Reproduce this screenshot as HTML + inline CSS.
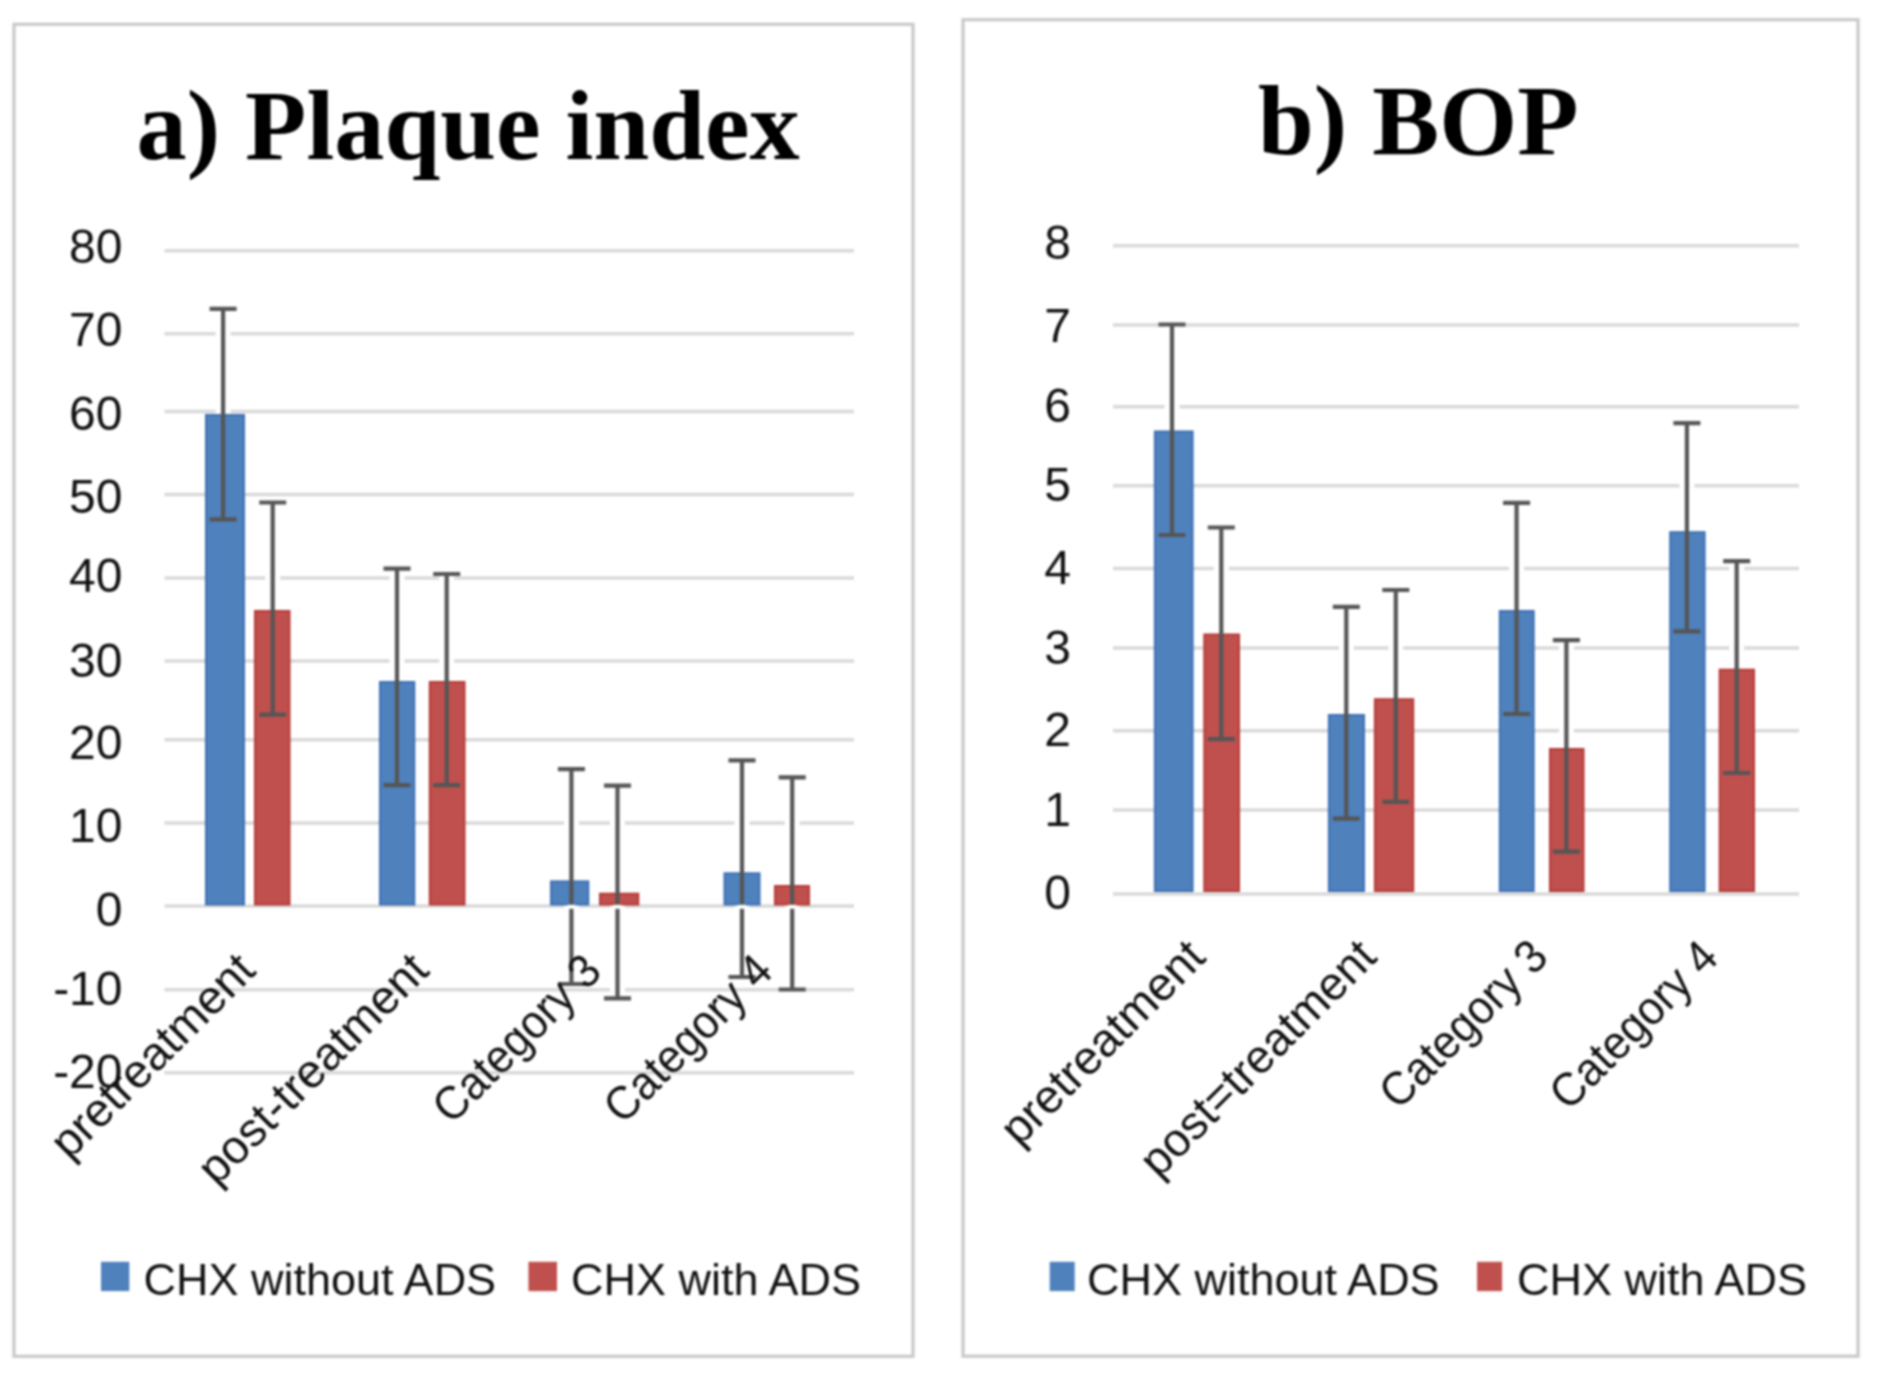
<!DOCTYPE html>
<html><head><meta charset="utf-8"><style>
html,body{margin:0;padding:0;background:#fff;width:1890px;height:1388px;overflow:hidden}
svg{display:block}
#w{filter:blur(1px)}
</style></head><body><div id="w">
<svg width="1890" height="1388" viewBox="0 0 1890 1388">
<rect width="1890" height="1388" fill="#fff"/>
<rect x="14" y="24.3" width="899" height="1332" fill="none" stroke="#c9c9c9" stroke-width="3.2"/>
<rect x="963" y="19.7" width="895" height="1336.5" fill="none" stroke="#c9c9c9" stroke-width="3.2"/>
<text x="136.5" y="158.5" font-family='"Liberation Serif", serif' font-weight="bold" font-size="100.3" fill="#000">a) Plaque index</text>
<text x="1258" y="153.5" font-family='"Liberation Serif", serif' font-weight="bold" font-size="100.3" fill="#000">b) BOP</text>
<line x1="164.5" x2="854" y1="250.8" y2="250.8" stroke="#d9d9d9" stroke-width="3.5"/>
<text x="122.5" y="263.2" text-anchor="end" font-family='"Liberation Sans", sans-serif' font-size="48" fill="#111111">80</text>
<line x1="164.5" x2="854" y1="333.8" y2="333.8" stroke="#d9d9d9" stroke-width="3.5"/>
<text x="122.5" y="346.29999999999995" text-anchor="end" font-family='"Liberation Sans", sans-serif' font-size="48" fill="#111111">70</text>
<line x1="164.5" x2="854" y1="411.6" y2="411.6" stroke="#d9d9d9" stroke-width="3.5"/>
<text x="122.5" y="429.9" text-anchor="end" font-family='"Liberation Sans", sans-serif' font-size="48" fill="#111111">60</text>
<line x1="164.5" x2="854" y1="494.6" y2="494.6" stroke="#d9d9d9" stroke-width="3.5"/>
<text x="122.5" y="513.2" text-anchor="end" font-family='"Liberation Sans", sans-serif' font-size="48" fill="#111111">50</text>
<line x1="164.5" x2="854" y1="577.9" y2="577.9" stroke="#d9d9d9" stroke-width="3.5"/>
<text x="122.5" y="591.9" text-anchor="end" font-family='"Liberation Sans", sans-serif' font-size="48" fill="#111111">40</text>
<line x1="164.5" x2="854" y1="660.9" y2="660.9" stroke="#d9d9d9" stroke-width="3.5"/>
<text x="122.5" y="676.9" text-anchor="end" font-family='"Liberation Sans", sans-serif' font-size="48" fill="#111111">30</text>
<line x1="164.5" x2="854" y1="739.8" y2="739.8" stroke="#d9d9d9" stroke-width="3.5"/>
<text x="122.5" y="759.1999999999999" text-anchor="end" font-family='"Liberation Sans", sans-serif' font-size="48" fill="#111111">20</text>
<line x1="164.5" x2="854" y1="823.1" y2="823.1" stroke="#d9d9d9" stroke-width="3.5"/>
<text x="122.5" y="842.3" text-anchor="end" font-family='"Liberation Sans", sans-serif' font-size="48" fill="#111111">10</text>
<line x1="164.5" x2="854" y1="906.1" y2="906.1" stroke="#d9d9d9" stroke-width="3.5"/>
<text x="122.5" y="925.6" text-anchor="end" font-family='"Liberation Sans", sans-serif' font-size="48" fill="#111111">0</text>
<line x1="164.5" x2="854" y1="989.8" y2="989.8" stroke="#d9d9d9" stroke-width="3.5"/>
<text x="122.5" y="1004.6" text-anchor="end" font-family='"Liberation Sans", sans-serif' font-size="48" fill="#111111">-10</text>
<line x1="164.5" x2="854" y1="1072.8" y2="1072.8" stroke="#d9d9d9" stroke-width="3.5"/>
<text x="122.5" y="1087.9" text-anchor="end" font-family='"Liberation Sans", sans-serif' font-size="48" fill="#111111">-20</text>
<line x1="1113" x2="1799" y1="245.8" y2="245.8" stroke="#d9d9d9" stroke-width="3.5"/>
<text x="1071" y="258.5" text-anchor="end" font-family='"Liberation Sans", sans-serif' font-size="48" fill="#111111">8</text>
<line x1="1113" x2="1799" y1="325" y2="325" stroke="#d9d9d9" stroke-width="3.5"/>
<text x="1071" y="342.09999999999997" text-anchor="end" font-family='"Liberation Sans", sans-serif' font-size="48" fill="#111111">7</text>
<line x1="1113" x2="1799" y1="406.8" y2="406.8" stroke="#d9d9d9" stroke-width="3.5"/>
<text x="1071" y="422.4" text-anchor="end" font-family='"Liberation Sans", sans-serif' font-size="48" fill="#111111">6</text>
<line x1="1113" x2="1799" y1="485.8" y2="485.8" stroke="#d9d9d9" stroke-width="3.5"/>
<text x="1071" y="501.4" text-anchor="end" font-family='"Liberation Sans", sans-serif' font-size="48" fill="#111111">5</text>
<line x1="1113" x2="1799" y1="568.5" y2="568.5" stroke="#d9d9d9" stroke-width="3.5"/>
<text x="1071" y="583.9" text-anchor="end" font-family='"Liberation Sans", sans-serif' font-size="48" fill="#111111">4</text>
<line x1="1113" x2="1799" y1="648" y2="648" stroke="#d9d9d9" stroke-width="3.5"/>
<text x="1071" y="663.9" text-anchor="end" font-family='"Liberation Sans", sans-serif' font-size="48" fill="#111111">3</text>
<line x1="1113" x2="1799" y1="730.7" y2="730.7" stroke="#d9d9d9" stroke-width="3.5"/>
<text x="1071" y="746.4" text-anchor="end" font-family='"Liberation Sans", sans-serif' font-size="48" fill="#111111">2</text>
<line x1="1113" x2="1799" y1="810" y2="810" stroke="#d9d9d9" stroke-width="3.5"/>
<text x="1071" y="825.9" text-anchor="end" font-family='"Liberation Sans", sans-serif' font-size="48" fill="#111111">1</text>
<line x1="1113" x2="1799" y1="893.9" y2="893.9" stroke="#d9d9d9" stroke-width="3.5"/>
<text x="1071" y="909.4" text-anchor="end" font-family='"Liberation Sans", sans-serif' font-size="48" fill="#111111">0</text>
<path d="M223.1 308.8V519.3" stroke="#fff" stroke-width="15" fill="none"/>
<path d="M272.7 502.5V714.7" stroke="#fff" stroke-width="15" fill="none"/>
<path d="M397 568.6V785.2" stroke="#fff" stroke-width="15" fill="none"/>
<path d="M446.7 574V785.2" stroke="#fff" stroke-width="15" fill="none"/>
<path d="M571.4 769.2V984" stroke="#fff" stroke-width="15" fill="none"/>
<path d="M617.5 785.7V998.4" stroke="#fff" stroke-width="15" fill="none"/>
<path d="M742 760.4V977" stroke="#fff" stroke-width="15" fill="none"/>
<path d="M792.2 777.3V989.5" stroke="#fff" stroke-width="15" fill="none"/>
<path d="M1172 324.5V535" stroke="#fff" stroke-width="15" fill="none"/>
<path d="M1221.3 527.5V739.1" stroke="#fff" stroke-width="15" fill="none"/>
<path d="M1346.3 606.9V818.7" stroke="#fff" stroke-width="15" fill="none"/>
<path d="M1395.8 590V801.9" stroke="#fff" stroke-width="15" fill="none"/>
<path d="M1516.6 502.8V714" stroke="#fff" stroke-width="15" fill="none"/>
<path d="M1566.4 640.1V851.7" stroke="#fff" stroke-width="15" fill="none"/>
<path d="M1686.9 423.2V631.3" stroke="#fff" stroke-width="15" fill="none"/>
<path d="M1736.7 561.2V773" stroke="#fff" stroke-width="15" fill="none"/>
<rect x="206" y="415" width="38" height="489.5" fill="#4F81BD" stroke="#3d70b4" stroke-width="2"/>
<rect x="255" y="611" width="34.5" height="293.5" fill="#C0504D" stroke="#b53a37" stroke-width="2"/>
<rect x="380" y="682" width="34.30000000000001" height="222.5" fill="#4F81BD" stroke="#3d70b4" stroke-width="2"/>
<rect x="429.8" y="682" width="34.69999999999999" height="222.5" fill="#C0504D" stroke="#b53a37" stroke-width="2"/>
<rect x="551" y="881.4" width="37.299999999999955" height="23.100000000000023" fill="#4F81BD" stroke="#3d70b4" stroke-width="2"/>
<rect x="600" y="893.7" width="38.299999999999955" height="10.799999999999955" fill="#C0504D" stroke="#b53a37" stroke-width="2"/>
<rect x="724.5" y="873.3" width="35.0" height="31.200000000000045" fill="#4F81BD" stroke="#3d70b4" stroke-width="2"/>
<rect x="775" y="886" width="34" height="18.5" fill="#C0504D" stroke="#b53a37" stroke-width="2"/>
<rect x="1154.9" y="431.5" width="37.69999999999982" height="459.5" fill="#4F81BD" stroke="#3d70b4" stroke-width="2"/>
<rect x="1204.3" y="634.5" width="34.700000000000045" height="256.5" fill="#C0504D" stroke="#b53a37" stroke-width="2"/>
<rect x="1328.9" y="715" width="35.09999999999991" height="176" fill="#4F81BD" stroke="#3d70b4" stroke-width="2"/>
<rect x="1374.9" y="699.2" width="38.299999999999955" height="191.79999999999995" fill="#C0504D" stroke="#b53a37" stroke-width="2"/>
<rect x="1499.8" y="611" width="33.90000000000009" height="280" fill="#4F81BD" stroke="#3d70b4" stroke-width="2"/>
<rect x="1550" y="749" width="33.5" height="142" fill="#C0504D" stroke="#b53a37" stroke-width="2"/>
<rect x="1670.2" y="532.2" width="34.399999999999864" height="358.79999999999995" fill="#4F81BD" stroke="#3d70b4" stroke-width="2"/>
<rect x="1719.7" y="669.7" width="34.299999999999955" height="221.29999999999995" fill="#C0504D" stroke="#b53a37" stroke-width="2"/>
<path d="M223.1 308.8V519.3M209.6 308.8H236.6M209.6 519.3H236.6" stroke="#555555" stroke-width="4.2" fill="none"/>
<path d="M272.7 502.5V714.7M259.2 502.5H286.2M259.2 714.7H286.2" stroke="#555555" stroke-width="4.2" fill="none"/>
<path d="M397 568.6V785.2M383.5 568.6H410.5M383.5 785.2H410.5" stroke="#555555" stroke-width="4.2" fill="none"/>
<path d="M446.7 574V785.2M433.2 574H460.2M433.2 785.2H460.2" stroke="#555555" stroke-width="4.2" fill="none"/>
<path d="M571.4 769.2V984M557.9 769.2H584.9M557.9 984H584.9" stroke="#555555" stroke-width="4.2" fill="none"/>
<path d="M617.5 785.7V998.4M604.0 785.7H631.0M604.0 998.4H631.0" stroke="#555555" stroke-width="4.2" fill="none"/>
<path d="M742 760.4V977M728.5 760.4H755.5M728.5 977H755.5" stroke="#555555" stroke-width="4.2" fill="none"/>
<path d="M792.2 777.3V989.5M778.7 777.3H805.7M778.7 989.5H805.7" stroke="#555555" stroke-width="4.2" fill="none"/>
<path d="M1172 324.5V535M1158.5 324.5H1185.5M1158.5 535H1185.5" stroke="#555555" stroke-width="4.2" fill="none"/>
<path d="M1221.3 527.5V739.1M1207.8 527.5H1234.8M1207.8 739.1H1234.8" stroke="#555555" stroke-width="4.2" fill="none"/>
<path d="M1346.3 606.9V818.7M1332.8 606.9H1359.8M1332.8 818.7H1359.8" stroke="#555555" stroke-width="4.2" fill="none"/>
<path d="M1395.8 590V801.9M1382.3 590H1409.3M1382.3 801.9H1409.3" stroke="#555555" stroke-width="4.2" fill="none"/>
<path d="M1516.6 502.8V714M1503.1 502.8H1530.1M1503.1 714H1530.1" stroke="#555555" stroke-width="4.2" fill="none"/>
<path d="M1566.4 640.1V851.7M1552.9 640.1H1579.9M1552.9 851.7H1579.9" stroke="#555555" stroke-width="4.2" fill="none"/>
<path d="M1686.9 423.2V631.3M1673.4 423.2H1700.4M1673.4 631.3H1700.4" stroke="#555555" stroke-width="4.2" fill="none"/>
<path d="M1736.7 561.2V773M1723.2 561.2H1750.2M1723.2 773H1750.2" stroke="#555555" stroke-width="4.2" fill="none"/>
<rect x="567.4" y="904.8" width="8" height="4" fill="#fff"/>
<rect x="613.5" y="904.8" width="8" height="4" fill="#fff"/>
<rect x="738" y="904.8" width="8" height="4" fill="#fff"/>
<rect x="788.2" y="904.8" width="8" height="4" fill="#fff"/>
<text transform="translate(257.6,972.6) rotate(-45) scale(1,1)" text-anchor="end" font-family='"Liberation Sans", sans-serif' font-size="47" fill="#111111">pretreatment</text>
<text transform="translate(430.9,972.6) rotate(-45) scale(1,1)" text-anchor="end" font-family='"Liberation Sans", sans-serif' font-size="47" fill="#111111">post-treatment</text>
<text transform="translate(603.8,973.6) rotate(-45) scale(0.935,1)" text-anchor="end" font-family='"Liberation Sans", sans-serif' font-size="47" fill="#111111">Category 3</text>
<text transform="translate(775,973.6) rotate(-45) scale(0.935,1)" text-anchor="end" font-family='"Liberation Sans", sans-serif' font-size="47" fill="#111111">Category 4</text>
<text transform="translate(1207.6,959.2) rotate(-45) scale(1,1)" text-anchor="end" font-family='"Liberation Sans", sans-serif' font-size="47" fill="#111111">pretreatment</text>
<text transform="translate(1378.7,959.2) rotate(-45) scale(0.99,1)" text-anchor="end" font-family='"Liberation Sans", sans-serif' font-size="47" fill="#111111">post=treatment</text>
<text transform="translate(1550.4,959.1) rotate(-45) scale(0.935,1)" text-anchor="end" font-family='"Liberation Sans", sans-serif' font-size="47" fill="#111111">Category 3</text>
<text transform="translate(1720.6,960) rotate(-45) scale(0.935,1)" text-anchor="end" font-family='"Liberation Sans", sans-serif' font-size="47" fill="#111111">Category 4</text>
<rect x="101" y="1261.8" width="28.3" height="29.3" fill="#4F81BD"/>
<text x="143.5" y="1294.7" font-family='"Liberation Sans", sans-serif' font-size="45" fill="#111111">CHX without ADS</text>
<rect x="528.5" y="1261.8" width="28.5" height="29.3" fill="#C0504D"/>
<text x="571" y="1294.7" font-family='"Liberation Sans", sans-serif' font-size="45" fill="#111111">CHX with ADS</text>
<rect x="1049.7" y="1261.8" width="25" height="29.3" fill="#4F81BD"/>
<text x="1087" y="1294.7" font-family='"Liberation Sans", sans-serif' font-size="45" fill="#111111">CHX without ADS</text>
<rect x="1477.1" y="1261.8" width="25" height="29.3" fill="#C0504D"/>
<text x="1517" y="1294.7" font-family='"Liberation Sans", sans-serif' font-size="45" fill="#111111">CHX with ADS</text>
</svg></div></body></html>
